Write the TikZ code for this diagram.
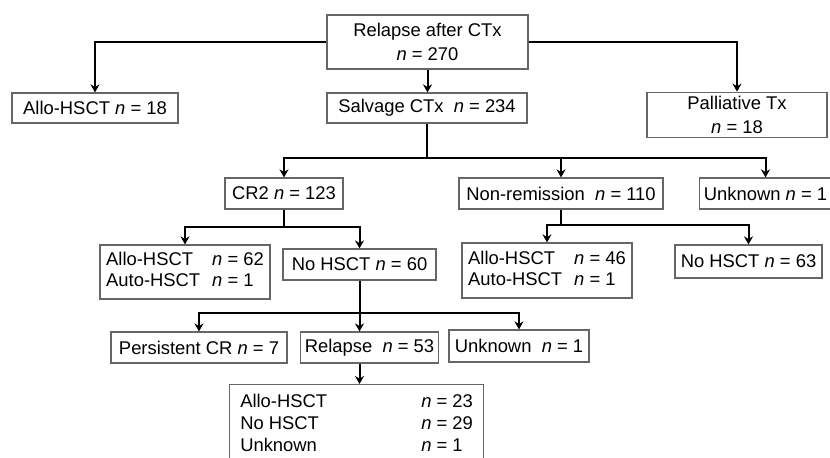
\documentclass[tikz,border=0pt]{standalone}
\usepackage{fontspec}
\setmainfont{Liberation Sans}
\usetikzlibrary{arrows.meta,positioning}

\newcommand{\ncount}[1]{\textit{n} = #1}

\begin{document}
\begin{tikzpicture}[x=0.5pt, y=-0.5pt,
  box/.style={draw=black!60, line width=0.6pt, inner sep=2pt, align=center, font=\fontsize{9.2}{12}\selectfont},
  pairbox/.style={box, font=\fontsize{9.2}{10.5}\selectfont},
  arr/.style={line width=1pt, -{Stealth[length=4pt, width=4.5pt]}},
  link/.style={line width=1pt}]
\useasboundingbox (0,0) rectangle (830,458);

%first level
\node[box, minimum width=100.5pt, minimum height=27pt] (relapse) at (427.5,42) {Relapse after CTx\\\ncount{270}};
\node[box, minimum width=83pt, minimum height=15pt] (allo18) at (95,108) {Allo-HSCT \ncount{18}};
\node[box, minimum width=100pt, minimum height=15pt] (salvage) at (427,108) {Salvage CTx\ \ \ncount{234}};
\node[box, minimum width=90pt, minimum height=22pt] (palliative) at (737,115) {Palliative Tx\\\ncount{18}};

%after salvage
\node[box, minimum width=59pt, minimum height=15.5pt] (cr2) at (284,193.5) {CR2 \ncount{123}};
\node[box, minimum width=102pt, minimum height=15.5pt] (nonrem) at (561,193.5) {Non-remission\ \ \ncount{110}};
\node[box, minimum width=64pt, minimum height=15.5pt] (unknownA) at (765.5,193.5) {Unknown \ncount{1}};

%after cr2 and non-remission
\node[pairbox, minimum width=85pt, minimum height=27pt] (allo62) at (185,272)
  {\begin{tabular}{@{}p{53pt}@{}l@{}}Allo-HSCT & \ncount{62}\\ Auto-HSCT & \ncount{1}\end{tabular}};
\node[box, minimum width=76.5pt, minimum height=15.5pt] (nohsct60) at (359.5,264.5) {No HSCT \ncount{60}};
\node[pairbox, minimum width=85pt, minimum height=27.5pt] (allo46) at (547,270.5)
  {\begin{tabular}{@{}p{53pt}@{}l@{}}Allo-HSCT & \ncount{46}\\ Auto-HSCT & \ncount{1}\end{tabular}};
\node[box, minimum width=73.5pt, minimum height=16.5pt] (nohsct63) at (748.5,261.5) {No HSCT \ncount{63}};

%after no hsct
\node[box, minimum width=88pt, minimum height=15.5pt] (persistent) at (199,347.5) {Persistent CR \ncount{7}};
\node[box, minimum width=67.5pt, minimum height=15.5pt] (relapse53) at (369.5,347.5) {Relapse\ \ \ncount{53}};
\node[box, minimum width=70pt, minimum height=16pt] (unknownB) at (519,346) {Unknown\ \ \ncount{1}};
\node[box, font=\fontsize{9.2}{11}\selectfont, inner xsep=5pt, anchor=north west, minimum width=127pt, minimum height=41pt] (outcome) at (229,384)
  {\begin{tabular}{@{}p{90.5pt}@{}l@{}}Allo-HSCT & \ncount{23}\\ No HSCT & \ncount{29}\\ Unknown & \ncount{1}\end{tabular}};

%bus points
\coordinate (busA) at ([yshift=-17pt]salvage.south);
\coordinate (busB) at ([yshift=-8.5pt]cr2.south);
\coordinate (busC) at ([yshift=-7.5pt]nonrem.south);
\coordinate (busD) at ([yshift=-16pt]nohsct60.south);

%arrows
\draw[arr] (relapse.west) -| (allo18.north);
\draw[arr] (relapse.south) -- (relapse.south |- salvage.north);
\draw[arr] (relapse.east) -| (palliative.north);

\draw[link] (salvage.south) -- (busA);
\draw[arr] (busA) -| (cr2.north);
\draw[arr] (busA) -| (nonrem.north);
\draw[arr] (busA) -| (unknownA.north);

\draw[link] (cr2.south) -- (busB);
\draw[arr] (busB) -| (allo62.north);
\draw[arr] (busB) -| (nohsct60.north);

\draw[link] (nonrem.south) -- (busC);
\draw[arr] (busC) -| (allo46.north);
\draw[arr] (busC) -| (nohsct63.north);

\draw[link] (nohsct60.south) -- (busD);
\draw[arr] (busD) -| (persistent.north);
\draw[arr] (busD) -- (busD |- relapse53.north);
\draw[arr] (busD) -| (unknownB.north);
\draw[arr] (relapse53.south -| busD) -- (busD |- outcome.north);
\end{tikzpicture}
\end{document}
